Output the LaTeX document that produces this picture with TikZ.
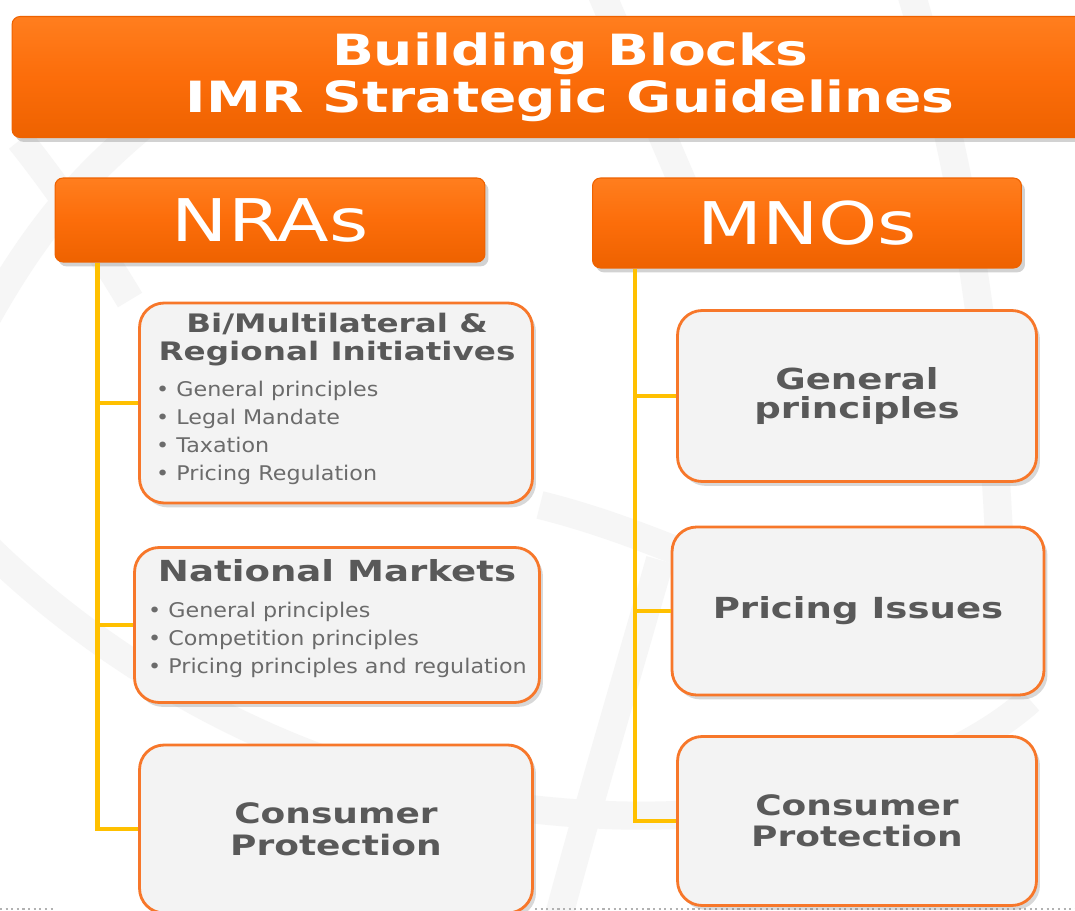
\documentclass[tikz,border=0pt]{standalone}
\usepackage{fontspec}
\setmainfont{DejaVu Sans}[FakeStretch=1.1]
\newfontfamily\widefont{DejaVu Sans}[FakeStretch=1.28]
\usetikzlibrary{shadows}
\definecolor{imrorange}{HTML}{FC6D0A}
\definecolor{imrlight}{HTML}{FF7E1E}
\definecolor{imrdark}{HTML}{EE6200}
\definecolor{boxedge}{HTML}{F7772A}
\definecolor{boxfill}{HTML}{F3F3F3}
\definecolor{linkyellow}{HTML}{FFC000}
\definecolor{textgray}{HTML}{595959}
\definecolor{listgray}{HTML}{6B6B6B}
\tikzset{head box/.style={draw=imrdark, line width=0.6pt, top color=imrlight,
        bottom color=imrdark, middle color=imrorange, rounded corners=4.5pt,
        drop shadow={opacity=0.35, shadow xshift=2pt, shadow yshift=-2.5pt},
        text=white, align=center},
    item box/.style={draw=boxedge, line width=1.6pt, fill=boxfill,
        rounded corners=14pt,
        drop shadow={opacity=0.3, shadow xshift=2pt, shadow yshift=-2.5pt},
        text=textgray, align=center},
    branch/.style={draw=linkyellow, line width=2.8pt},
    mark line/.style={draw=gray!7, line width=16pt}}

\begin{document}
\begin{tikzpicture}[x=0.02cm, y=-0.02cm,
        item title/.style={text=textgray, align=center,
            font=\widefont\bfseries\fontsize{14.5}{16}\selectfont},
        item list/.style={text=listgray, align=left, anchor=west,
            font=\fontsize{11.5}{15.9}\selectfont}]
    \clip (0,0) rectangle (1075,911);
    \fill[white] (0,0) rectangle (1075,911);
    % faint watermark behind the slide
    \draw[mark line] (-20,330) .. controls (40,220) and (90,170) .. (150,120);
    \draw[mark line] (20,140) .. controls (60,190) and (100,250) .. (130,300);
    \draw[mark line] (600,-10) .. controls (630,60) and (660,130) .. (690,200);
    \draw[mark line] (910,-10) .. controls (950,120) and (990,300) .. (1000,560);
    \draw[mark line] (-20,540) .. controls (100,660) and (300,790) .. (560,812)
        .. controls (760,830) and (940,780) .. (1030,700);
    \draw[mark line] (555,930) .. controls (590,800) and (620,700) .. (660,560);
    \draw[mark line] (540,505) .. controls (600,520) and (650,540) .. (700,560);
    \draw[gray!60, dotted, line width=1.2pt] (0,909) -- (55,909);
    \draw[gray!60, dotted, line width=1.2pt] (535,909) -- (1075,909);

    % header row
    \node[head box, minimum width=22.32cm, minimum height=2.42cm,
        font=\widefont\bfseries\fontsize{24.5}{26.7}\selectfont]
        (title) at (570,77) {Building Blocks\\IMR Strategic Guidelines};
    \node[head box, minimum width=8.6cm, minimum height=1.68cm,
        font=\widefont\fontsize{33.5}{36}\selectfont]
        (nras) at (270,220) {NRAs};
    \node[head box, minimum width=8.58cm, minimum height=1.8cm,
        font=\widefont\fontsize{33.5}{36}\selectfont]
        (mnos) at (807,223) {MNOs};

    % NRAs column
    \node[item box, minimum width=7.86cm, minimum height=4cm] (nra1) at (336,403) {};
    \node[item title] (nra1head) at (337,340) {Bi/Multilateral \&\\Regional Initiatives};
    \node[item list] (nra1list) at (150,433) {\textbullet\ General principles\\
        \textbullet\ Legal Mandate\\ \textbullet\ Taxation\\ \textbullet\ Pricing Regulation};
    \node[item box, minimum width=8.1cm, minimum height=3.1cm] (nra2) at (337,625) {};
    \node[item title, font=\widefont\bfseries\fontsize{16.5}{18}\selectfont]
        (nra2head) at (337,571) {National Markets};
    \node[item list] (nra2list) at (142,640) {\textbullet\ General principles\\
        \textbullet\ Competition principles\\ \textbullet\ Pricing principles and regulation};
    \node[item box, minimum width=7.86cm, minimum height=3.36cm,
        font=\widefont\bfseries\fontsize{16}{18}\selectfont]
        (nra3) at (336,829) {Consumer\\Protection};

    % MNOs column
    \node[item box, minimum width=7.18cm, minimum height=3.42cm,
        font=\widefont\bfseries\fontsize{16.5}{17}\selectfont]
        (mno1) at (857,396) {General\\principles};
    \node[item box, minimum width=7.44cm, minimum height=3.36cm,
        font=\widefont\bfseries\fontsize{16.5}{18}\selectfont]
        (mno2) at (858,611) {Pricing Issues};
    \node[item box, minimum width=7.18cm, minimum height=3.38cm,
        font=\widefont\bfseries\fontsize{16}{17.6}\selectfont]
        (mno3) at (857,821) {Consumer\\Protection};

    % yellow links
    \coordinate (ltrunk) at ([xshift=0.86cm]nras.south west);
    \coordinate (rtrunk) at ([xshift=0.86cm]mnos.south west);
    \draw[branch] (ltrunk) |- (nra3.west);
    \draw[branch] (ltrunk |- nra1.west) -- (nra1.west);
    \draw[branch] (ltrunk |- nra2.west) -- (nra2.west);
    \draw[branch] (rtrunk) |- (mno3.west);
    \draw[branch] (rtrunk |- mno1.west) -- (mno1.west);
    \draw[branch] (rtrunk |- mno2.west) -- (mno2.west);
\end{tikzpicture}
\end{document}
